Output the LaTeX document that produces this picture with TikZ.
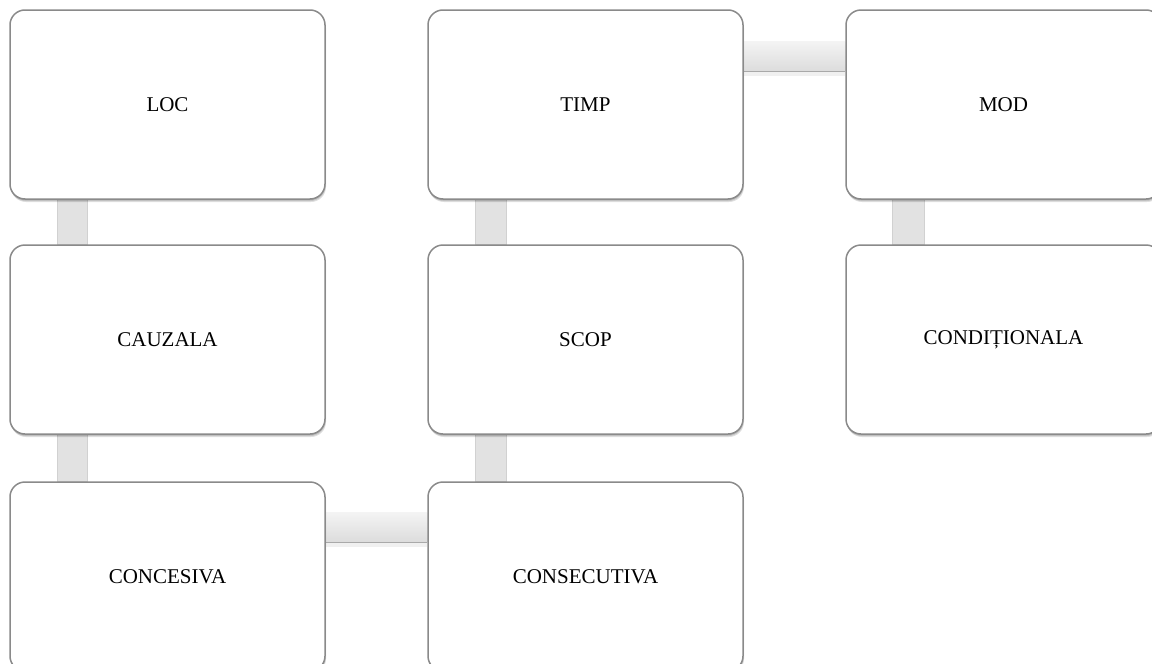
\documentclass[tikz,border=0pt]{standalone}
\usepackage{fontspec}
\setmainfont{Liberation Serif}
\usetikzlibrary{shadows,backgrounds}
\definecolor{boxline}{HTML}{8A8A8A}
\definecolor{barfill}{HTML}{E2E2E2}
\definecolor{bartop}{HTML}{F4F4F4}
\definecolor{barbot}{HTML}{DCDCDC}
\definecolor{baredge}{HTML}{A9A9A9}
\tikzset{
  box/.style={rectangle, draw=boxline, line width=1.5pt, fill=white,
    rounded corners=15pt, minimum width=315pt, minimum height=189pt,
    inner sep=0pt, font=\fontsize{21}{24}\selectfont,
    drop shadow={shadow xshift=1pt, shadow yshift=-3pt, opacity=0.12, fill=black},
    drop shadow={shadow xshift=0.5pt, shadow yshift=-2pt, opacity=0.12, fill=black},
    drop shadow={shadow xshift=0pt, shadow yshift=-1pt, opacity=0.12, fill=black}},
  vbar/.style={fill=barfill, draw=black!18, line width=0.6pt},
  hbar/.style={top color=bartop, bottom color=barbot, draw=none},
  hedge/.style={draw=baredge, line width=1.2pt}
}
\begin{document}
\begin{tikzpicture}[x=1pt,y=-1pt]
\useasboundingbox (0,0) rectangle (1152,664);
\clip (0,0) rectangle (1152,664);
\node[box] (loc) at (167.5,104.5) {LOC};
\node[box] (timp) at (585.5,104.5) {TIMP};
\node[box] (mod) at (1003.5,104.5) {MOD};
\node[box] (cauzala) at (167.5,339.5) {CAUZALA};
\node[box] (scop) at (585.5,339.5) {SCOP};
\node[box] (cond) at (1003.5,339.5) {CONDIȚIONALA};
\node[box] (concesiva) at (167.5,576.5) {CONCESIVA};
\node[box] (consecutiva) at (585.5,576.5) {CONSECUTIVA};
\begin{scope}[on background layer]
  \fill[white] (0,0) rectangle (1152,664);
  % vertical connectors
  \path[vbar] ([xshift=48pt]loc.south west) rectangle ([xshift=78pt]cauzala.north west);
  \path[vbar] ([xshift=48pt]cauzala.south west) rectangle ([xshift=78pt]concesiva.north west);
  \path[vbar] ([xshift=48pt]timp.south west) rectangle ([xshift=79pt]scop.north west);
  \path[vbar] ([xshift=48pt]scop.south west) rectangle ([xshift=79pt]consecutiva.north west);
  \path[vbar] ([xshift=47pt]mod.south west) rectangle ([xshift=79pt]cond.north west);
  % horizontal connectors
  \path[hbar] ([yshift=-31pt]concesiva.north east) rectangle ([yshift=-61pt]consecutiva.north west);
  \draw[hedge] ([yshift=-61pt]concesiva.north east) -- ([yshift=-61pt]consecutiva.north west);
  \fill[black, opacity=0.06] ([yshift=-62pt]concesiva.north east) rectangle ([yshift=-66pt]consecutiva.north west);
  \path[hbar] ([yshift=-32pt]timp.north east) rectangle ([yshift=-62pt]mod.north west);
  \draw[hedge] ([yshift=-62pt]timp.north east) -- ([yshift=-62pt]mod.north west);
  \fill[black, opacity=0.06] ([yshift=-63pt]timp.north east) rectangle ([yshift=-67pt]mod.north west);
\end{scope}
\end{tikzpicture}
\end{document}
